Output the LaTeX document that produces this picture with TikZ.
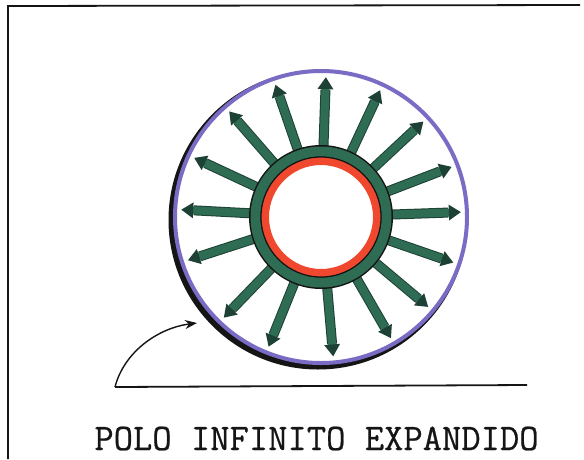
\documentclass[tikz,border=0pt]{standalone}
\usepackage{fontspec}
\usetikzlibrary{arrows.meta,calc}
\newfontfamily\capfont[FakeBold=0.6]{Latin Modern Mono}
\definecolor{ringpurple}{HTML}{7A6CC4}
\definecolor{fieldgreen}{HTML}{2F6C54}
\definecolor{darkgreen}{HTML}{1D4134}
\definecolor{polered}{HTML}{F0482E}
\definecolor{inkblack}{HTML}{151515}
\tikzset{
  fieldarrow/.style={line width=8pt, color=fieldgreen,
    -{Triangle[width=15pt,length=12pt,fill=darkgreen,color=darkgreen]}},
  fieldedge/.style={line width=10pt, color=darkgreen, line cap=butt},
  frameline/.style={line width=1.8pt, color=inkblack},
  pointer/.style={line width=1.4pt, color=inkblack, -{Stealth[length=12pt,width=9pt]}},
  caption/.style={font=\fontsize{37.5}{40}\selectfont\capfont, text=inkblack, inner sep=0pt, anchor=base}
}
\begin{document}
\begin{tikzpicture}[x=1pt,y=-1pt]
\useasboundingbox (0,0) rectangle (584,459);
\fill[white] (0,0) rectangle (584,459);
% frame
\draw[frameline] (8,459) -- (8,6) -- (580,5);
% ring assembly
\begin{scope}[shift={(321,217)}, yscale=-1]
  % dark shadow on the lower left of the outer ring
  \fill[inkblack] (-3,-3) circle[radius=149.5];
  \fill[white] (0,0) circle[radius=146];
  % field arrows
  \foreach \a in {2,21,43,65,88,109,131,155,177,198,226,248,275,300,320,341} {
    \coordinate (s\a) at (\a:70);
    \coordinate (e\a) at (\a:140);
    \draw[fieldedge] (s\a) -- ($(s\a)!0.82!(e\a)$);
    \draw[fieldarrow] (s\a) -- (e\a);
  }
  % outer purple circle
  \draw[ringpurple, line width=4pt] (0,0) circle[radius=146];
  % green ring
  \draw[inkblack, line width=13pt] (0,0) circle[radius=65.5];
  \draw[fieldgreen, line width=10pt] (0,0) circle[radius=65.5];
  % red ring
  \draw[polered, line width=8pt] (0,0) circle[radius=56];
  \draw[inkblack, line width=1.2pt] (0,0) circle[radius=60];
\end{scope}
% baseline and pointer
\coordinate (lineL) at (115,387);
\coordinate (lineR) at (527,385);
\coordinate (tip) at (197,323);
\draw[frameline] (lineL) -- (lineR);
\draw[pointer] (lineL) .. controls (124,352) and (158,328) .. (tip);
% caption
\node[caption] (title) at (316.5,450) {POLO INFINITO EXPANDIDO};
\end{tikzpicture}
\end{document}
